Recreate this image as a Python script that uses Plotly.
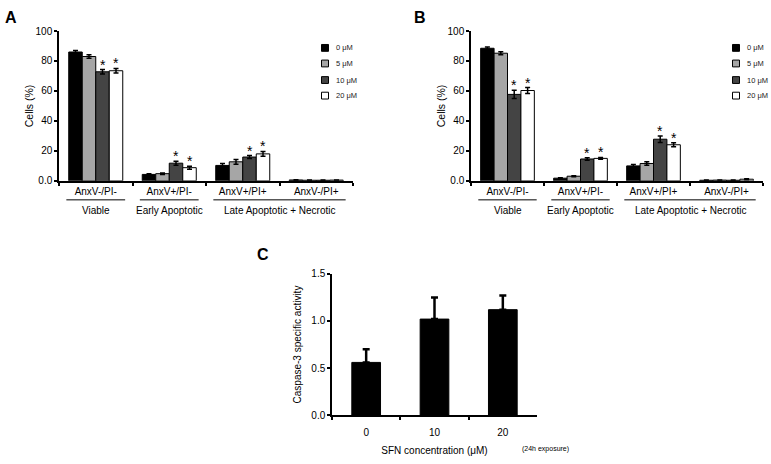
import plotly.graph_objects as go

# ---------------- data ----------------
groups = ["AnxV-/PI-", "AnxV+/PI-", "AnxV+/PI+", "AnxV-/PI+"]
doses = ["0 μM", "5 μM", "10 μM", "20 μM"]
dose_colors = ["#000000", "#a6a6a6", "#444444", "#ffffff"]

# Panel A
a_0 = [86.0, 4.3, 10.3, 0.6]
a_5 = [83.0, 4.8, 12.7, 0.4]
a_10 = [72.8, 11.8, 15.9, 0.4]
a_20 = [73.5, 8.8, 18.0, 0.5]
ea_0 = [1.0, 0.5, 1.3, 0.2]
ea_5 = [1.2, 0.5, 1.6, 0.1]
ea_10 = [1.5, 1.3, 1.0, 0.1]
ea_20 = [1.5, 1.0, 1.6, 0.1]

# Panel B
b_0 = [88.5, 1.8, 10.0, 0.4]
b_5 = [85.2, 3.1, 11.6, 0.5]
b_10 = [57.7, 14.6, 27.8, 0.4]
b_20 = [60.3, 15.0, 24.1, 1.1]
eb_0 = [0.8, 0.3, 1.0, 0.1]
eb_5 = [1.0, 0.3, 1.2, 0.1]
eb_10 = [2.7, 0.8, 2.2, 0.1]
eb_20 = [2.0, 0.6, 1.4, 0.3]

# significance: (dose index, group index)
stars_a = [(2, 0), (3, 0), (2, 1), (3, 1), (2, 2), (3, 2)]
stars_b = [(2, 0), (3, 0), (2, 1), (3, 1), (2, 2), (3, 2)]

# category super-groups: (label, first group idx, last group idx)
super_groups = [("Viable", 0, 0), ("Early Apoptotic", 1, 1), ("Late Apoptotic + Necrotic", 2, 3)]

y_ticks = [0, 20, 40, 60, 80, 100]
y_ticktext = ["0.0", "20", "40", "60", "80", "100"]

# Panel C
sfn = ["0", "10", "20"]
casp = [0.56, 1.02, 1.12]
casp_err = [0.14, 0.23, 0.15]

# ---------------- figure ----------------
W, H = 771, 464
FONT = "Liberation Sans, Arial, sans-serif"
BARGAP = 0.265

fig = go.Figure()

panels = [
    ("x", "y", [a_0, a_5, a_10, a_20], [ea_0, ea_5, ea_10, ea_20], stars_a),
    ("x2", "y2", [b_0, b_5, b_10, b_20], [eb_0, eb_5, eb_10, eb_20], stars_b),
]

annotations = []
shapes = []

for xa, ya, vals, errs, stars in panels:
    for i, (v, e) in enumerate(zip(vals, errs)):
        fig.add_trace(go.Bar(
            x=groups, y=v, name=doses[i], xaxis=xa, yaxis=ya,
            marker=dict(color=dose_colors[i], line=dict(color="#000000", width=1)),
            error_y=dict(type="data", array=e, visible=True, color="#000000",
                         thickness=1.5, width=2.5),
            showlegend=False,
        ))
    bw = (1 - BARGAP) / len(vals)
    for di, gi in stars:
        xpos = gi - (1 - BARGAP) / 2 + bw * (di + 0.5)
        annotations.append(dict(
            x=xpos, y=vals[di][gi] + errs[di][gi], xref=xa, yref=ya,
            text="*", showarrow=False, yanchor="bottom", yshift=-5,
            font=dict(family=FONT, size=14, color="#000000")))

# Panel C
fig.add_trace(go.Bar(
    x=sfn, y=casp, xaxis="x3", yaxis="y3", width=0.42,
    marker=dict(color="#000000", line=dict(color="#000000", width=1)),
    error_y=dict(type="data", array=casp_err, arrayminus=[0] * len(casp),
                 symmetric=False, visible=True, color="#000000", thickness=2.5, width=3.5),
    showlegend=False,
))

# ---- axes ----
dom_a = [59 / W, 353 / W]
dom_b = [471 / W, 763 / W]
dom_ab_y = [1 - 179.5 / H, 1 - 25.7 / H]
dom_c = [332 / W, 537 / W]
dom_c_y = [1 - 420 / H, 1 - 275 / H]

tickfont = dict(family=FONT, size=10, color="#000000")
common_x = dict(showline=True, linecolor="#000000", linewidth=1.5, ticks="outside",
                ticklen=3, tickwidth=1.5, tickcolor="#000000", tickson="boundaries",
                showgrid=False, zeroline=False, tickfont=tickfont, fixedrange=True)
common_y = dict(showline=True, linecolor="#000000", linewidth=1.5, ticks="outside",
                ticklen=3, tickwidth=1.5, tickcolor="#000000", showgrid=False,
                zeroline=False, tickfont=tickfont, fixedrange=True)

fig.update_layout(
    xaxis=dict(domain=dom_a, anchor="y", **common_x),
    yaxis=dict(domain=dom_ab_y, anchor="x", range=[0, 100], tickvals=y_ticks,
               ticktext=y_ticktext,
               title=dict(text="Cells (%)", font=dict(family=FONT, size=10.5), standoff=0),
               **common_y),
    xaxis2=dict(domain=dom_b, anchor="y2", **common_x),
    yaxis2=dict(domain=dom_ab_y, anchor="x2", range=[0, 100], tickvals=y_ticks,
                ticktext=y_ticktext,
                title=dict(text="Cells (%)", font=dict(family=FONT, size=10.5), standoff=0),
                **common_y),
    xaxis3=dict(domain=dom_c, anchor="y3", ticklabelstandoff=7,
                title=dict(text="SFN concentration (μM)", font=dict(family=FONT, size=10), standoff=10),
                **common_x),
    yaxis3=dict(domain=dom_c_y, anchor="x3", range=[0, 1.5], tickvals=[0, 0.5, 1.0, 1.5],
                tickformat=".1f",
                title=dict(text="Caspase-3 specific activity", font=dict(family=FONT, size=10), standoff=8),
                **common_y),
)

# ---- super-group underlines and labels ----
for xa in ["x", "x2"]:
    for label, g0, g1 in super_groups:
        shapes.append(dict(type="line", xref=xa, yref="paper",
                           x0=g0 - 0.4, x1=g1 + 0.4, y0=1 - 199 / H, y1=1 - 199 / H,
                           line=dict(color="#000000", width=1)))
        annotations.append(dict(x=(g0 + g1) / 2, y=1 - 210 / H, xref=xa, yref="paper",
                                text=label, showarrow=False, yanchor="middle",
                                font=dict(family=FONT, size=10, color="#000000")))

# ---- manual legends ----
for lx in [325 / W, 736 / W]:
    for i, d in enumerate(doses):
        cy = [43, 59, 76, 92][i]
        shapes.append(dict(type="rect", xref="paper", yref="paper",
                           x0=lx - 3.5 / W, x1=lx + 3.5 / W,
                           y0=1 - (cy + 3.5) / H, y1=1 - (cy - 3.5) / H,
                           fillcolor=dose_colors[i], line=dict(color="#000000", width=1)))
        annotations.append(dict(x=lx + 9 / W, y=1 - cy / H, xref="paper", yref="paper",
                                text=d, showarrow=False, xanchor="left", yanchor="middle",
                                font=dict(family=FONT, size=7.5, color="#222222")))

# ---- panel letters & note ----
for letter, px, py in [("A", 11, 12), ("B", 420, 12), ("C", 263, 255)]:
    annotations.append(dict(x=px / W, y=1 - py / H, xref="paper", yref="paper", text=f"<b>{letter}</b>",
                            showarrow=False, xanchor="center", yanchor="middle",
                            font=dict(family=FONT, size=16, color="#000000")))
annotations.append(dict(x=520 / W, y=1 - 455 / H, xref="paper", yref="paper", text="(24h exposure)",
                        showarrow=False, xanchor="left", yanchor="middle",
                        font=dict(family=FONT, size=7, color="#000000")))

fig.update_layout(
    width=W, height=H, margin=dict(l=0, r=0, t=0, b=0),
    paper_bgcolor="#ffffff", plot_bgcolor="#ffffff",
    barmode="group", bargap=BARGAP, bargroupgap=0,
    font=dict(family=FONT, color="#000000"),
    annotations=annotations, shapes=shapes,
)

fig.write_html("out.html", config={"displayModeBar": False},
               post_script="document.body.style.margin='0';document.body.style.padding='0';")
